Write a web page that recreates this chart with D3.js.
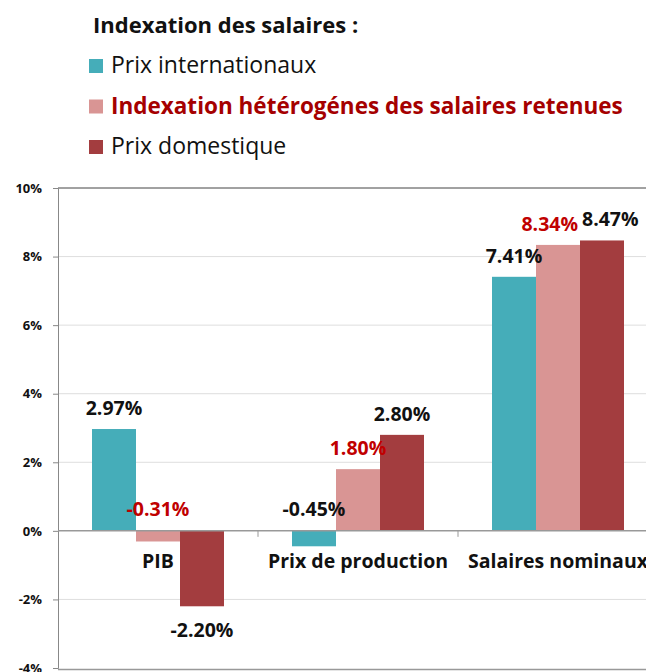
<!DOCTYPE html>
<html>
<head>
<meta charset="utf-8">
<script src="https://cdn.jsdelivr.net/npm/d3@7"></script>
<style>
  body { margin: 0; background: #fff; }
  text { font-family: "Open Sans", "Noto Sans", sans-serif; }
</style>
</head>
<body>
<div id="chart"></div>
<script>
// chart data
const categories = ['PIB', 'Prix de production', 'Salaires nominaux'];
const seriesNames = ['Prix internationaux', 'Indexation hétérogénes des salaires retenues', 'Prix domestique'];
const prixInternationaux = [2.97, -0.45, 7.41];
const indexationHeterogene = [-0.31, 1.80, 8.34];
const prixDomestique = [-2.20, 2.80, 8.47];
const yTicks = [-4, -2, 0, 2, 4, 6, 8, 10];
const legendTitle = 'Indexation des salaires :';

const colors = ['#45adb9', '#d99594', '#a33d3f'];
const labelColors = ['#111', '#c00000', '#111'];
const legendTextColors = ['#111', '#a50000', '#111'];

const width = 646, height = 672;
const margin = { top: 188, left: 58 };
const plotRight = 658, plotBottom = 668;

const svg = d3.select('#chart').append('svg')
    .attr('width', width)
    .attr('height', height);

const values = [prixInternationaux, indexationHeterogene, prixDomestique];
const rows = categories.map((c, i) => ({
    cat: c,
    vals: values.map((s, k) => ({ key: k, v: s[i] }))
}));

const x0 = d3.scaleBand()
    .domain(categories)
    .range([margin.left, plotRight])
    .paddingInner(0.34)
    .paddingOuter(0.17);

const x1 = d3.scaleBand()
    .domain(d3.range(seriesNames.length))
    .range([0, x0.bandwidth()]);

const y = d3.scaleLinear()
    .domain([-4, 10])
    .range([plotBottom, margin.top]);

// gridlines
svg.append('g')
    .selectAll('line')
    .data(yTicks.filter(t => t !== 0 && t !== -4 && t !== 10))
    .join('line')
    .attr('x1', margin.left).attr('x2', plotRight)
    .attr('y1', d => y(d)).attr('y2', d => y(d))
    .attr('stroke', '#dedede');

// frame top / bottom
svg.append('line')
    .attr('x1', margin.left).attr('x2', plotRight)
    .attr('y1', y(10)).attr('y2', y(10))
    .attr('stroke', '#444');
svg.append('line')
    .attr('x1', margin.left).attr('x2', plotRight)
    .attr('y1', y(-4) + 1.5).attr('y2', y(-4) + 1.5)
    .attr('stroke', '#999').attr('stroke-width', 1.5);

// y axis
const yAxis = svg.append('g')
    .attr('transform', `translate(${margin.left},0)`)
    .call(d3.axisLeft(y).tickValues(yTicks).tickSize(5).tickPadding(11)
        .tickFormat(d => d + '%'));
yAxis.select('.domain').attr('stroke', '#888');
yAxis.selectAll('.tick line').attr('stroke', '#888');
yAxis.selectAll('text')
    .attr('font-size', 13).attr('font-weight', 'bold').attr('fill', '#111')
    .style('font-family', '"Open Sans", sans-serif');

// bars
const groups = svg.append('g')
    .selectAll('g')
    .data(rows)
    .join('g')
    .attr('transform', d => `translate(${x0(d.cat)},0)`);

groups.selectAll('rect')
    .data(d => d.vals)
    .join('rect')
    .attr('x', d => x1(d.key))
    .attr('width', x1.bandwidth())
    .attr('y', d => y(Math.max(0, d.v)))
    .attr('height', d => Math.abs(y(d.v) - y(0)))
    .attr('fill', d => colors[d.key]);

// zero axis with category ticks
const xAxis = svg.append('g')
    .attr('transform', `translate(0,${y(0)})`)
    .call(d3.axisBottom(x0).tickSize(0).tickFormat(''));
xAxis.select('.domain').attr('stroke', '#999').attr('stroke-width', 1.5)
    .attr('d', `M${margin.left},0H${plotRight}`);
xAxis.selectAll('.cat-tick')
    .data(categories.slice(1))
    .join('line')
    .attr('class', 'cat-tick')
    .attr('x1', d => x0(d) - x0.step() * x0.paddingInner() / 2)
    .attr('x2', d => x0(d) - x0.step() * x0.paddingInner() / 2)
    .attr('y1', 0).attr('y2', 6)
    .attr('stroke', '#999');

// category labels
svg.append('g')
    .selectAll('text')
    .data(categories)
    .join('text')
    .attr('x', d => x0(d) + x0.bandwidth() / 2)
    .attr('y', y(0) + 37)
    .attr('text-anchor', 'middle')
    .attr('font-size', 19.5)
    .attr('font-weight', 'bold')
    .attr('fill', '#111')
    .text(d => d);

// value labels
groups.selectAll('text')
    .data(d => d.vals)
    .join('text')
    .attr('x', d => x1(d.key) + x1.bandwidth() / 2)
    .attr('y', d => {
        if (d.v >= 0) return y(d.v) - 14;
        if (d.v < -1) return y(d.v) + 31;
        return y(0) - 15;
    })
    .attr('text-anchor', 'middle')
    .attr('font-size', 19.5)
    .attr('font-weight', 'bold')
    .attr('fill', d => labelColors[d.key])
    .text(d => d.v.toFixed(2) + '%');

// push apart labels of neighbouring bars that collide
groups.each(function () {
    const ts = d3.select(this).selectAll('text').nodes();
    for (let i = 1; i < ts.length; i++) {
        const a = ts[i - 1], b = ts[i];
        const ya = +a.getAttribute('y'), yb = +b.getAttribute('y');
        if (Math.abs(ya - yb) > 20) continue;
        const xa = +a.getAttribute('x'), xb = +b.getAttribute('x');
        const over = (xa + a.getComputedTextLength() / 2) - (xb - b.getComputedTextLength() / 2) + 4;
        if (over > 0) {
            a.setAttribute('x', xa - over / 2);
            b.setAttribute('x', xb + over / 2);
        }
    }
});

// legend
svg.append('text')
    .attr('x', 93).attr('y', 33)
    .attr('font-size', 22).attr('font-weight', 'bold').attr('fill', '#111')
    .text(legendTitle);

const legend = svg.append('g')
    .selectAll('g')
    .data(seriesNames)
    .join('g')
    .attr('transform', (d, i) => `translate(89,${59 + i * 40.5})`);

legend.append('rect')
    .attr('width', 14).attr('height', 14)
    .attr('fill', (d, i) => colors[i]);

legend.append('text')
    .attr('x', 22).attr('y', 14)
    .attr('font-size', (d, i) => i === 1 ? 22.5 : 23)
    .attr('font-weight', (d, i) => i === 1 ? 'bold' : 'normal')
    .attr('fill', (d, i) => legendTextColors[i])
    .text(d => d);
</script>
</body>
</html>
